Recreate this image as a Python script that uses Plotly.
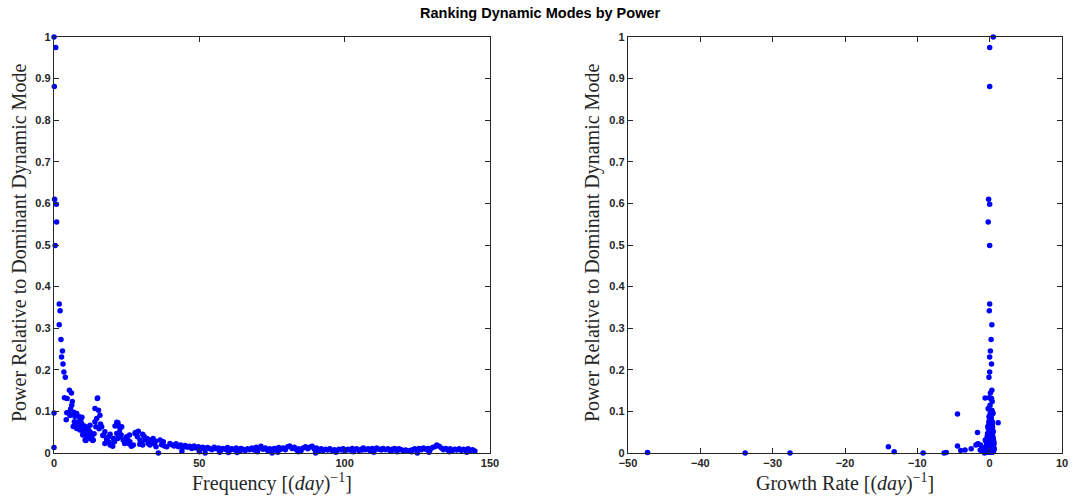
import plotly.graph_objects as go

# ---------------- data ----------------
# dominant modes
d_freq = [0.0, 0.6, 0.1, 0.2, 0.8, 0.9, 0.4, 1.8, 2.1, 1.8, 2.4, 2.9, 2.6, 3.1, 3.4, 3.9, 0.0, 0.0]
d_power = [1.000, 0.975, 0.881, 0.610, 0.598, 0.555, 0.499, 0.358, 0.342, 0.308, 0.273, 0.245, 0.231, 0.214, 0.195, 0.182, 0.096, 0.013]
d_growth = [0.50, 0.00, 0.00, -0.15, 0.00, -0.20, 0.00, 0.00, -0.05, 0.30, 0.20, 0.10, 0.00, 0.25, 0.00, -0.10, 0.10, 0.20]

# mid-frequency cluster
c_freq = [5.3, 6.0, 3.6, 4.5, 6.3, 6.1, 5.7, 4.4, 5.0, 4.2,
          14.9, 14.1, 15.3, 15.8, 7.8, 8.7, 9.6, 7.2, 6.6, 8.4,
          8.8, 10.1, 10.7, 11.2, 12.4, 13.0, 13.5, 11.0, 13.3, 14.7,
          14.4, 16.4, 16.8, 17.5, 18.3, 19.3, 19.8, 21.6, 22.1, 22.7,
          23.3, 21.6, 22.7, 23.8, 25.0, 26.1, 27.9, 28.7, 29.6, 27.3,
          9.2, 9.5, 7.8, 8.9, 9.9, 10.7, 11.8, 12.4, 12.9, 12.4,
          14.1, 17.0, 18.1, 19.3, 17.5, 20.2, 20.8, 21.9, 23.1, 24.3,
          25.4, 26.6, 28.4, 29.0, 30.1, 31.3, 32.4, 33.0, 34.1, 35.1,
          36.5, 37.6, 38.8, 39.9, 35.9, 31.0, 32.0, 33.5, 35.0, 37.0,
          11.6, 10.5, 16.0, 18.8, 20.5, 24.7, 26.0, 21.0, 22.5, 30.5,
          7.0, 5.5, 6.8, 7.5, 10.0, 11.5, 13.8, 15.5, 19.0, 25.8]
c_power = [.151, .144, .133, .131, .124, .115, .106, .097, .097, .080,
           .131, .107, .103, .091, .095, .087, .086, .088, .064, .075,
           .063, .055, .047, .039, .051, .039, .031, .030, .030, .083,
           .063, .063, .042, .051, .031, .045, .023, .074, .067, .059,
           .063, .047, .039, .031, .039, .027, .047, .039, .031, .019,
           .079, .071, .059, .055, .043, .031, .055, .043, .033, .067,
           .075, .043, .033, .019, .023, .016, .027, .035, .043, .023,
           .031, .016, .048, .052, .023, .031, .023, .031, .035, .015,
           .031, .027, .015, .023, .000, .040, .035, .025, .028, .020,
           .062, .065, .070, .039, .035, .035, .043, .065, .050, .045,
           .075, .090, .098, .070, .048, .036, .046, .058, .026, .022]
c_growth = [0.30, 0.10, -0.05, 0.25, 0.35, 0.05, -0.15, 0.20, 0.40, 0.00,
            0.15, -0.20, 0.30, 0.05, 0.45, -0.10, 0.20, 0.10, -0.25, 0.35,
            0.00, 0.25, -0.30, 0.15, 0.40, -0.05, 0.30, -0.45, 0.10, 0.20,
            -0.15, 0.35, 0.05, 0.50, -0.20, 0.15, 0.30, 0.00, 0.25, -0.10,
            0.40, 0.10, -0.35, 0.20, 0.45, -0.05, 0.30, 0.15, -0.25, 0.55,
            0.05, 0.25, -0.20, 0.40, 0.10, -0.40, 0.30, 0.00, 0.50, 0.15,
            -0.10, 0.35, 0.20, -0.30, 0.45, 0.05, -0.50, 0.25, 0.10, 0.60,
            -0.20, 0.30, 0.15, 0.40, -0.15, 0.50, 0.05, -0.60, 0.35, 0.20,
            0.10, -0.25, 0.45, 0.00, -0.70, 0.25, 0.40, -0.10, 0.55, -0.35,
            0.20, 0.05, 0.35, -0.20, 0.30, 0.45, 0.10, -0.05, 0.25, 0.15,
            0.30, 0.15, 0.40, -0.10, 0.20, 0.35, 0.00, 0.25, -0.40, 0.50]

# high-frequency tail
t_freq = [40.5, 41.3, 42.0, 42.8, 43.6, 44.3, 45.1, 45.9, 46.6, 47.4,
          48.2, 48.9, 49.7, 50.5, 51.2, 52.0, 52.8, 53.5, 54.3, 55.1,
          55.8, 56.6, 57.4, 58.1, 58.9, 59.7, 60.4, 61.2, 62.0, 62.7,
          63.5, 64.3, 65.0, 65.8, 66.6, 67.3, 68.1, 68.9, 69.6, 70.4,
          71.2, 71.9, 72.7, 73.5, 74.2, 75.0, 75.8, 76.5, 77.3, 78.1,
          78.8, 79.6, 80.4, 81.1, 81.9, 82.7, 83.4, 84.2, 85.0, 85.7,
          86.5, 87.3, 88.0, 88.8, 89.6, 90.3, 91.1, 91.9, 92.6, 93.4,
          94.2, 94.9, 95.7, 96.5, 97.2, 98.0, 98.8, 99.5, 100.3, 101.1,
          101.8, 102.6, 103.4, 104.1, 104.9, 105.7, 106.4, 107.2, 108.0, 108.7,
          109.5, 110.3, 111.0, 111.8, 112.6, 113.3, 114.1, 114.9, 115.6, 116.4,
          117.2, 117.9, 118.7, 119.5, 120.2, 121.0, 121.8, 122.5, 123.3, 124.1,
          124.8, 125.6, 126.4, 127.1, 127.9, 128.7, 129.4, 130.2, 131.0, 131.7,
          132.5, 133.3, 134.0, 134.8, 135.6, 136.3, 137.1, 137.9, 138.6, 139.4,
          140.2, 140.9, 141.7, 142.5, 143.2, 144.0, 144.8]
t_power = [.020, .017, .022, .015, .019, .013, .018, .014, .016, .011,
           .017, .012, .015, .010, .014, .009, .013, .011, .008, .014,
           .010, .012, .007, .011, .009, .013, .006, .010, .008, .012,
           .007, .011, .009, .006, .010, .008, .012, .007, .014, .010,
           .016, .009, .012, .006, .010, .008, .011, .007, .013, .009,
           .012, .008, .015, .017, .011, .014, .008, .010, .006, .012,
           .015, .010, .014, .016, .009, .012, .007, .010, .006, .009,
           .007, .010, .006, .008, .005, .009, .007, .010, .006, .009,
           .007, .011, .008, .010, .006, .009, .012, .008, .010, .006,
           .011, .008, .012, .009, .007, .011, .008, .010, .006, .009,
           .011, .007, .010, .008, .005, .007, .004, .006, .008, .010,
           .007, .011, .008, .012, .009, .011, .008, .013, .015, .019,
           .016, .012, .008, .011, .007, .010, .006, .009, .007, .010,
           .006, .009, .007, .010, .006, .008, .005]
t_growth = [0.10, -0.20, 0.30, 0.05, -0.35, 0.40, 0.15, -0.10, 0.25, -0.45,
            0.35, 0.00, -0.25, 0.45, 0.20, -0.55, 0.10, 0.30, -0.15, 0.50,
            -0.30, 0.25, 0.05, -0.65, 0.40, 0.15, -0.20, 0.35, 0.00, -0.40,
            0.55, 0.20, -0.10, 0.30, -0.80, 0.45, 0.05, -0.30, 0.25, 0.10,
            -0.50, 0.40, 0.15, -0.20, 0.35, -0.05, 0.60, 0.20, -0.35, 0.30,
            0.00, -0.60, 0.45, 0.10, -0.25, 0.35, 0.15, -0.90, 0.50, 0.05,
            -0.15, 0.40, -0.40, 0.25, 0.10, -0.70, 0.30, 0.55, -0.05, 0.20,
            -0.30, 0.45, 0.00, -1.00, 0.35, 0.15, -0.20, 0.50, 0.10, -0.45,
            0.25, -0.10, 0.40, -0.55, 0.20, 0.60, -0.25, 0.05, 0.35, -1.10,
            0.15, -0.35, 0.45, 0.00, -0.75, 0.30, 0.10, -0.15, 0.55, -0.40,
            0.20, -1.20, 0.35, 0.05, -0.50, 0.40, -0.85, 0.25, 0.10, -0.30,
            0.50, -0.05, 0.30, -0.60, 0.15, 0.45, -0.20, 0.35, 0.00, 0.25,
            -0.45, 0.55, 0.10, -0.95, 0.30, -0.15, 0.40, -0.70, 0.20, 0.05,
            -0.35, 0.45, -1.30, 0.15, 0.35, -0.25, 0.50]

# low-power modes near the axis
l_freq = [44.0, 50.0, 57.0, 64.0, 70.0, 77.0, 84.0, 91.0, 97.0, 103.0, 110.0, 116.0, 123.0, 129.0, 136.0, 142.0]
l_power = [.004, .003, .002, .004, .003, .002, .003, .004, .002, .003, .002, .004, .003, .002, .003, .002]
l_growth = [-0.30, 0.20, -0.50, 0.40, -0.15, 0.10, -0.80, 0.30, -0.40, 0.50, -0.25, 0.15, -0.60, 0.35, -0.10, 0.25]

# strongly damped / outlying modes
o_freq = [60.0, 75.0, 90.0, 47.0, 118.0, 125.0, 52.0, 63.0, 7.0, 38.0,
          100.0, 106.0, 113.0, 28.0, 29.5, 30.5, 15.0, 22.0, 33.0, 34.5]
o_power = [.001, .000, .000, .015, .003, .000, .000, .001, .094, .017,
           .006, .007, .010, .049, .021, .019, .132, .073, .019, .022]
o_growth = [-47.3, -33.8, -27.6, -14.0, -13.2, -9.2, -6.3, -6.0, -4.45, -4.45,
            -4.0, -3.4, -2.56, -1.68, -1.68, -1.27, -0.63, 1.17, -1.9, -1.6]

freq = d_freq + c_freq + t_freq + l_freq + o_freq
power = d_power + c_power + t_power + l_power + o_power
growth = d_growth + c_growth + t_growth + l_growth + o_growth

y_ticks = [0, 0.1, 0.2, 0.3, 0.4, 0.5, 0.6, 0.7, 0.8, 0.9, 1]
y_labels = ["0", "0.1", "0.2", "0.3", "0.4", "0.5", "0.6", "0.7", "0.8", "0.9", "1"]
x1_ticks = [0, 50, 100, 150]
x2_ticks = [-50, -40, -30, -20, -10, 0, 10]

# ---------------- figure ----------------
W, H = 1080, 501
AX = "#262626"
mk = dict(color="#0000FF", size=5.5, line=dict(width=0))

fig = go.Figure()
fig.add_trace(go.Scatter(x=freq, y=power, mode="markers", marker=mk,
                         xaxis="x", yaxis="y", cliponaxis=False, showlegend=False))
fig.add_trace(go.Scatter(x=growth, y=power, mode="markers", marker=mk,
                         xaxis="x2", yaxis="y2", cliponaxis=False, showlegend=False))

tickfont = dict(family="Liberation Sans, Arial, sans-serif", size=11, color=AX, weight="bold")
common = dict(showline=True, linecolor=AX, linewidth=1.3, mirror="ticks",
              ticks="inside", ticklen=5, tickwidth=1.3, tickcolor=AX,
              showgrid=False, zeroline=False, tickfont=tickfont, automargin=False)

ytop = 1 - 37 / H
ybot = 1 - 453 / H
fig.update_layout(
    width=W, height=H,
    margin=dict(l=0, r=0, t=0, b=0, pad=0, autoexpand=False),
    paper_bgcolor="white", plot_bgcolor="white",
    xaxis=dict(domain=[54 / W, 490 / W], range=[0, 150], tickvals=x1_ticks,
               anchor="y", **common),
    yaxis=dict(domain=[ybot, ytop], range=[0, 1], tickvals=y_ticks, ticktext=y_labels,
               anchor="x", **common),
    xaxis2=dict(domain=[628 / W, 1062 / W], range=[-50, 10], tickvals=x2_ticks,
                anchor="y2", **common),
    yaxis2=dict(domain=[ybot, ytop], range=[0, 1], tickvals=y_ticks, ticktext=y_labels,
                anchor="x2", **common),
)

serif = dict(family="Liberation Serif, Times New Roman, serif", size=20, color=AX)
ann = [
    dict(text="<b>Ranking Dynamic Modes by Power</b>", x=0.5, y=1 - 13 / H,
         font=dict(family="Liberation Sans, Arial, sans-serif", size=14.5, color="black")),
    dict(text="Power Relative to Dominant Dynamic Mode", x=20 / W, y=1 - 243 / H,
         textangle=-90, font=serif),
    dict(text="Power Relative to Dominant Dynamic Mode", x=593 / W, y=1 - 243 / H,
         textangle=-90, font=serif),
    dict(text="Frequency [(<i>day</i>)<sup>−1</sup>]", x=272 / W, y=1 - 482 / H, font=serif),
    dict(text="Growth Rate [(<i>day</i>)<sup>−1</sup>]", x=845 / W, y=1 - 482 / H, font=serif),
]
for a in ann:
    fig.add_annotation(xref="paper", yref="paper", showarrow=False,
                       xanchor="center", yanchor="middle", **a)

fig.write_html("out.html")
